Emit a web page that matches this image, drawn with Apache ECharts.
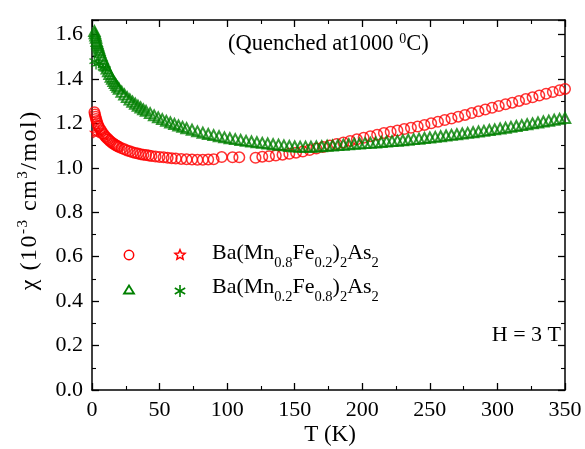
<!DOCTYPE html>
<html><head><meta charset="utf-8">
<script src="https://cdn.jsdelivr.net/npm/echarts@6/dist/echarts.min.js"></script>
<style>html,body{margin:0;padding:0;background:#fff}#c{width:585px;height:449px}</style>
</head><body><div id="c"></div>
<script>
// ---------- data ----------
const xTicks = [0, 50, 100, 150, 200, 250, 300, 350];
const yTicks = [0.0, 0.2, 0.4, 0.6, 0.8, 1.0, 1.2, 1.4, 1.6];

// Ba(Mn0.8Fe0.2)2As2, circles
const redCircleT = [1.8,2.2,2.6,3,3.5,4,4.5,5,6,7,8,9,10,11,12,13,14,15,16,17,18,19,20,22,24,26,28,30,32,34,36,38,40,42,44,47,50,53,56,59,62,66,70,74,78,82,86,90,96,104,109,121,126,131,136,141,146,151,156,161,166,171,176,181,186,191,196,201,206,211,216,221,226,231,236,241,246,251,256,261,266,271,276,281,286,291,296,301,306,311,316,321,326,331,336,341,346,350];
const redCircleChi = [1.25,1.24,1.23,1.22,1.21,1.2,1.19,1.185,1.175,1.165,1.155,1.148,1.14,1.134,1.128,1.122,1.117,1.112,1.108,1.104,1.1,1.097,1.094,1.088,1.083,1.078,1.074,1.07,1.067,1.064,1.061,1.059,1.057,1.055,1.053,1.051,1.049,1.047,1.045,1.043,1.042,1.04,1.038,1.037,1.036,1.036,1.037,1.038,1.048,1.047,1.047,1.045,1.05,1.052,1.055,1.059,1.063,1.068,1.073,1.08,1.087,1.094,1.1,1.107,1.114,1.121,1.128,1.135,1.142,1.149,1.156,1.162,1.168,1.174,1.18,1.186,1.193,1.2,1.207,1.215,1.222,1.23,1.238,1.246,1.254,1.262,1.27,1.278,1.286,1.293,1.301,1.309,1.317,1.325,1.333,1.341,1.349,1.355];

// Ba(Mn0.8Fe0.2)2As2, stars
const redStarT = [1.8, 3, 5, 9.5];
const redStarChi = [1.16, 1.155, 1.165, 1.145];

// Ba(Mn0.2Fe0.8)2As2, triangles
const greenTriT = [1.8,2.2,2.6,3,3.5,4,4.5,5,5.5,6,7,8,9,10,11,12,13,14,15,16,17,18,19,20,22,24,26,28,30,32,34,36,38,40,43,46,49,52,55,58,61,64,67,70,74,78,82,86,90,94,98,102,106,110,114,118,122,126,130,134,138,142,146,150,154,158,162,166,170,174,178,182,186,190,194,198,202,206,210,214,218,222,226,230,234,238,242,246,250,254,258,262,266,270,274,278,282,286,290,294,298,302,306,310,314,318,322,326,330,334,338,342,346,350];
const greenTriChi = [1.615,1.605,1.595,1.585,1.57,1.56,1.55,1.54,1.53,1.52,1.505,1.49,1.475,1.46,1.447,1.434,1.422,1.41,1.4,1.39,1.381,1.372,1.364,1.356,1.342,1.33,1.318,1.307,1.297,1.288,1.279,1.271,1.263,1.256,1.246,1.236,1.227,1.219,1.211,1.204,1.197,1.19,1.184,1.178,1.171,1.164,1.158,1.152,1.147,1.142,1.137,1.133,1.129,1.125,1.121,1.118,1.115,1.112,1.109,1.106,1.104,1.101,1.098,1.096,1.095,1.095,1.095,1.096,1.097,1.099,1.1,1.102,1.104,1.106,1.108,1.109,1.111,1.112,1.114,1.116,1.118,1.12,1.122,1.124,1.126,1.129,1.131,1.134,1.136,1.139,1.142,1.145,1.148,1.151,1.154,1.157,1.16,1.163,1.166,1.17,1.173,1.177,1.18,1.184,1.188,1.192,1.196,1.2,1.204,1.208,1.212,1.216,1.22,1.224];

// Ba(Mn0.2Fe0.8)2As2, asterisks
const greenStarT = [1.8, 3, 5, 8, 10];
const greenStarChi = [1.48, 1.465, 1.47, 1.45, 1.445];

// ---------- styling ----------
const FONT = '"Liberation Serif", "Times New Roman", serif';
const RED = '#ff0000', GREEN = '#008000';
const zip = (a, b) => a.slice(0, Math.min(a.length, b.length)).map((v, i) => [v, b[i]]);

const mctx = document.createElement('canvas').getContext('2d');
function tw(t, size) { mctx.font = size + 'px ' + FONT; return mctx.measureText(t).width; }
// lay out normal/sub/sup segments; (0,0) is the baseline start
function richRow(segs, S, s, supRaise, subDrop, spacing) {
  spacing = spacing || 0;
  let x = 0; const els = [];
  for (const [t, k] of segs) {
    const size = k === 'n' ? S : s;
    const base = k === 'sub' ? subDrop : k === 'sup' ? -supRaise : 0;
    const pieces = spacing ? Array.from(t) : [t];
    for (const p of pieces) {
      els.push({ type: 'text', x: x, y: base - 0.3375 * size,
        style: { text: p, font: size + 'px ' + FONT, fill: '#000', textAlign: 'left', textVerticalAlign: 'middle', verticalAlign: 'middle' } });
      x += tw(p, size) + spacing;
    }
  }
  return { els, width: x - spacing };
}

const STAR = 'path://M0,-100L26.5,-36.4L95.1,-30.9L42.8,13.9L58.8,80.9L0,45L-58.8,80.9L-42.8,13.9L-95.1,-30.9L-26.5,-36.4Z';
const ASTER = 'path://M0,-100L0,100M-86.6,-50L86.6,50M-86.6,50L86.6,-50';

const graphics = [];
// title
(function () {
  const r = richRow([['(Quenched at1000 ', 'n'], ['0', 'sup'], ['C)', 'n']], 22.5, 14, 8, 0);
  graphics.push({ type: 'group', x: 228, y: 52, children: r.els });
})();
// H = 3 T
(function () {
  const r = richRow([['H = 3 T', 'n']], 22, 14, 0, 0);
  graphics.push({ type: 'group', x: 561 - r.width, y: 343, children: r.els });
})();
// x label
(function () {
  const r = richRow([['T (K)', 'n']], 23, 14, 0, 0);
  graphics.push({ type: 'group', x: 330 - r.width / 2, y: 443, children: r.els });
})();
// y label (rotated)
(function () {
  const r = richRow([['\u03C7 (10', 'n'], ['-3', 'sup'], [' cm', 'n'], ['3', 'sup'], ['/mol)', 'n']], 24, 15, 10, 0, 1.5);
  graphics.push({ type: 'group', x: 38, y: 201 + r.width / 2, rotation: Math.PI / 2, children: r.els });
})();
// legend
(function () {
  const rows = [
    { y: 261, segs: [['Ba(Mn', 'n'], ['0.8', 'sub'], ['Fe', 'n'], ['0.2', 'sub'], [')', 'n'], ['2', 'sub'], ['As', 'n'], ['2', 'sub']] },
    { y: 295, segs: [['Ba(Mn', 'n'], ['0.2', 'sub'], ['Fe', 'n'], ['0.8', 'sub'], [')', 'n'], ['2', 'sub'], ['As', 'n'], ['2', 'sub']] }
  ];
  rows.forEach(row => {
    const r = richRow(row.segs, 22, 14.5, 0, 7);
    graphics.push({ type: 'group', x: 212, y: row.y, children: r.els });
  });
  graphics.push({ type: 'circle', shape: { cx: 129, cy: 255, r: 4.7 }, style: { fill: 'none', stroke: RED, lineWidth: 1.5 } });
  const sp = [];
  const R = 5.3, ri = 2.4;
  for (let i = 0; i < 10; i++) {
    const a = -Math.PI / 2 + i * Math.PI / 5, rr = i % 2 ? ri : R;
    sp.push([180 + rr * Math.cos(a), 255 + rr * Math.sin(a)]);
  }
  graphics.push({ type: 'polygon', shape: { points: sp }, style: { fill: 'none', stroke: RED, lineWidth: 1.5 } });
  graphics.push({ type: 'polygon', shape: { points: [[129, 285.5], [134, 293.5], [124, 293.5]] }, style: { fill: 'none', stroke: GREEN, lineWidth: 1.8 } });
  [[0, -6, 0, 6], [-5.2, -3, 5.2, 3], [-5.2, 3, 5.2, -3]].forEach(l => {
    graphics.push({ type: 'line', shape: { x1: 180 + l[0], y1: 291 + l[1], x2: 180 + l[2], y2: 291 + l[3] }, style: { stroke: GREEN, lineWidth: 1.6 } });
  });
})();

const isTick = (v, arr) => arr.some(t => Math.abs(t - v) < 1e-6);
const axisCommon = {
  type: 'value',
  axisLine: { show: true, onZero: false, lineStyle: { color: '#000', width: 1.5 } },
  axisTick: { show: true, inside: true, length: 7, lineStyle: { color: '#000', width: 1.3 } },
  minorTick: { show: true, splitNumber: 2, length: 4, lineStyle: { color: '#000', width: 1.1 } },
  splitLine: { show: false }, minorSplitLine: { show: false }
};

const option = {
  animation: false,
  backgroundColor: '#fff',
  grid: { left: 92, right: 20, top: 20, bottom: 59, containLabel: false },
  xAxis: [
    Object.assign({}, axisCommon, { min: 0, max: 350, interval: 50, position: 'bottom',
      axisLabel: { show: true, margin: 9, fontFamily: FONT, fontSize: 22, color: '#000',
        formatter: v => isTick(v, xTicks) ? String(v) : '' } }),
    Object.assign({}, axisCommon, { min: 0, max: 350, interval: 50, position: 'top', axisLabel: { show: false } })
  ],
  yAxis: [
    Object.assign({}, axisCommon, { min: 0, max: 1.665, interval: 0.2, position: 'left',
      axisLabel: { show: true, margin: 9, fontFamily: FONT, fontSize: 22, color: '#000',
        formatter: v => isTick(v, yTicks) ? v.toFixed(1) : '' } }),
    Object.assign({}, axisCommon, { min: 0, max: 1.665, interval: 0.2, position: 'right', axisLabel: { show: false } })
  ],
  series: [
    { type: 'scatter', name: 'red circles', data: zip(redCircleT, redCircleChi), symbol: 'circle', symbolSize: 10.5,
      itemStyle: { color: 'transparent', borderColor: RED, borderWidth: 1.5 }, silent: true, z: 2 },
    { type: 'scatter', name: 'green triangles', data: zip(greenTriT, greenTriChi), symbol: 'triangle', symbolSize: [10.5, 10],
      itemStyle: { color: 'transparent', borderColor: GREEN, borderWidth: 2 }, silent: true, z: 3 },
    { type: 'scatter', name: 'red stars', data: zip(redStarT, redStarChi), symbol: STAR, symbolSize: 8,
      itemStyle: { color: 'transparent', borderColor: RED, borderWidth: 1.3 }, silent: true, z: 4 },
    { type: 'scatter', name: 'green asterisks', data: zip(greenStarT, greenStarChi), symbol: ASTER, symbolSize: 10,
      itemStyle: { color: 'transparent', borderColor: GREEN, borderWidth: 1.5 }, silent: true, z: 4 }
  ],
  graphic: graphics
};

const chart = echarts.init(document.getElementById('c'), null, { renderer: 'canvas' });
chart.setOption(option);
</script>
</body></html>
